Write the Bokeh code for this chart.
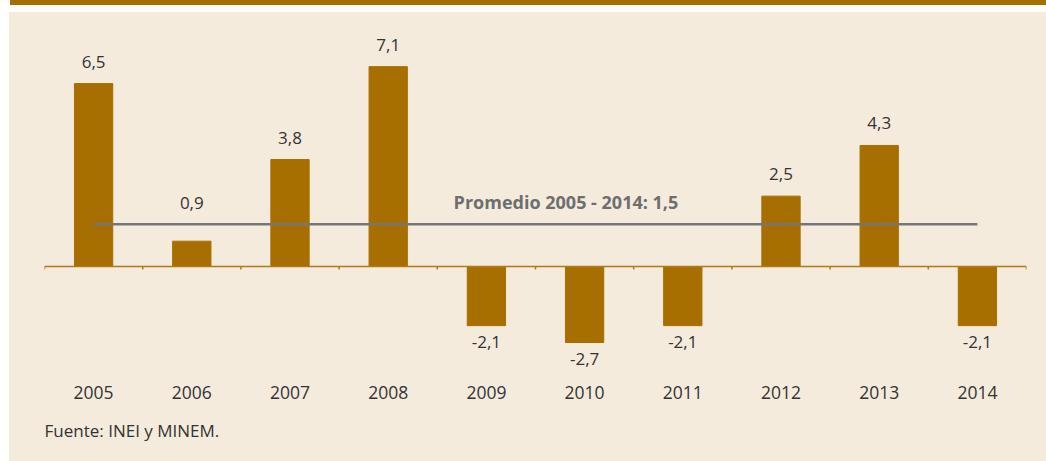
from bokeh.plotting import figure
from bokeh.models import (Range1d, FixedTicker, Span, Div, Title, ColumnDataSource,
                          GlobalInlineStyleSheet)
from bokeh.layouts import column
from bokeh.core.properties import value
from bokeh.embed import file_html
from bokeh.resources import INLINE
import numpy as np

years = ["2005", "2006", "2007", "2008", "2009", "2010", "2011", "2012", "2013", "2014"]
growth = [6.5, 0.9, 3.8, 7.1, -2.1, -2.7, -2.1, 2.5, 4.3, -2.1]
average = 1.5
average_label = "Promedio 2005 - 2014: 1,5"
source_note = "Fuente: INEI y MINEM."

GOLD = "#a66f00"
BEIGE = "#f5ebdd"
FONT = "Open Sans"

centers = np.arange(len(years)) + 0.5
labels = [f"{v:.1f}".replace(".", ",") for v in growth]

p = figure(width=1037, height=449, output_backend="svg", toolbar_location=None,
           x_range=Range1d(0, len(years)), y_range=Range1d(-3.694, 8.739),
           min_border_left=35, min_border_right=20, min_border_top=8, min_border_bottom=91,
           background_fill_color=None, border_fill_color=None, outline_line_color=None,
           margin=(0, 0, 0, 9), styles={"background-color": BEIGE})
p.grid.visible = False
p.yaxis.visible = False

xa = p.xaxis[0]
xa.ticker = FixedTicker(ticks=list(centers))
xa.major_label_overrides = {float(c): y for c, y in zip(centers, years)}
xa.axis_line_color = None
xa.major_tick_line_color = None
xa.minor_tick_line_color = None
xa.major_tick_out = 0
xa.major_tick_in = 0
xa.major_label_standoff = 15
xa.major_label_text_font = FONT
xa.major_label_text_font_size = "17.5px"
xa.major_label_text_color = "#333333"

p.vbar(x=centers, top=growth, bottom=0, width=0.39, fill_color=GOLD, line_color=GOLD)

p.add_layout(Span(location=0, dimension="width", line_color="#b07a1c", line_width=1.5))
bounds = np.arange(len(years) + 1)
p.segment(x0=bounds, y0=0, x1=bounds, y1=-0.11, line_color="#b07a1c", line_width=1.5)

p.segment(x0=[centers[0]], y0=[average], x1=[centers[-1]], y1=[average],
          line_color="#767676", line_width=2.5)
p.text(x=[5.31], y=[average], text=[average_label], y_offset=-22,
       text_align="center", text_baseline="alphabetic", text_font=value(FONT),
       text_font_style="bold", text_font_size="18px", text_color="#6e6e6e")

# value labels: above positive bars, below negative bars; lifted when near the average line
offsets = [(-38 if abs(v - average) < 1 else -22) if v >= 0 else 16 for v in growth]
src = ColumnDataSource(dict(x=centers, y=growth, t=labels, off=offsets))
p.text(x="x", y="y", text="t", source=src, y_offset="off", text_align="center",
       text_baseline="alphabetic", text_font=value(FONT), text_font_size="17px",
       text_color="#333333")

p.add_layout(Title(text=source_note, align="left", text_font=FONT, text_font_size="17px",
                   text_font_style="normal", text_color="#333333", standoff=30), "below")

bar = Div(text="", width=1036, height=5, margin=(0, 0, 0, 10),
          styles={"background-color": GOLD})

layout = column(bar, p, spacing=7, margin=(0, 0, 0, 0),
                stylesheets=[GlobalInlineStyleSheet(css="body { margin: 0 !important; background: #ffffff; }")])

open("out.html", "w").write(file_html(layout, INLINE))
